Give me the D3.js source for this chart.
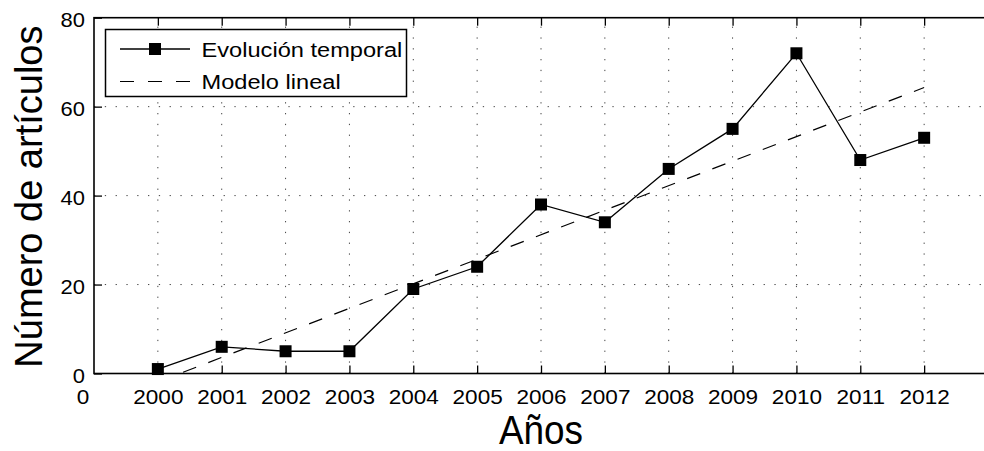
<!DOCTYPE html>
<html>
<head>
<meta charset="utf-8">
<script src="https://cdn.jsdelivr.net/npm/d3@7"></script>
<style>
  body { margin: 0; background: #fff; }
  text { font-family: "Liberation Sans", Arial, Helvetica, sans-serif; fill: #000; }
</style>
</head>
<body>
<svg id="chart" width="984" height="451"></svg>
<script>
// data
var years = [2000, 2001, 2002, 2003, 2004, 2005, 2006, 2007, 2008, 2009, 2010, 2011, 2012];
var counts = [1, 6, 5, 5, 19, 24, 38, 34, 46, 55, 72, 48, 53];
var modelYears = [2000, 2012];
var modelValues = [-1.9, 64.3];
var yTicks = [0, 20, 40, 60, 80];
var yGrid = [20, 40, 60];
var legendLabels = ["Evolución temporal", "Modelo lineal"];

var svg = d3.select("svg#chart");

// note: "top" is a reserved window global, so plot edges get their own names
var plotLeft = 94, plotRight = 988, plotTop = 17.7, plotBottom = 373.5;

var x = d3.scaleLinear().domain([1999, 2013]).range([plotLeft, plotRight]);
var y = d3.scaleLinear().domain([0, 80]).range([plotBottom, plotTop]);

svg.append("defs").append("clipPath")
   .attr("id", "plotClip")
   .append("rect")
   .attr("x", plotLeft).attr("y", plotTop)
   .attr("width", plotRight - plotLeft).attr("height", plotBottom - plotTop);

// dotted grid
var grid = svg.append("g").attr("class", "grid")
              .attr("stroke", "#444").attr("stroke-width", 1)
              .attr("stroke-dasharray", "1.3,9.5");
grid.selectAll("line.v")
    .data(years)
    .enter().append("line")
    .attr("class", "v")
    .attr("x1", function(d) { return x(d); })
    .attr("x2", function(d) { return x(d); })
    .attr("y1", plotBottom).attr("y2", plotTop);
grid.selectAll("line.h")
    .data(yGrid)
    .enter().append("line")
    .attr("class", "h")
    .attr("x1", plotLeft).attr("x2", plotRight)
    .attr("y1", function(d) { return y(d); })
    .attr("y2", function(d) { return y(d); });

// linear model
var modelLine = d3.line()
    .x(function(d, i) { return x(modelYears[i]); })
    .y(function(d) { return y(d); });
svg.append("path")
   .attr("clip-path", "url(#plotClip)")
   .attr("d", modelLine(modelValues))
   .attr("fill", "none")
   .attr("stroke", "#000")
   .attr("stroke-width", 1.2)
   .attr("stroke-dasharray", "14,13");

// series
var seriesLine = d3.line()
    .x(function(d, i) { return x(years[i]); })
    .y(function(d) { return y(d); });
svg.append("path")
   .attr("d", seriesLine(counts))
   .attr("fill", "none")
   .attr("stroke", "#000")
   .attr("stroke-width", 1.3);

var ms = 12;
svg.append("g").selectAll("rect")
   .data(counts)
   .enter().append("rect")
   .attr("x", function(d, i) { return x(years[i]) - ms / 2; })
   .attr("y", function(d) { return y(d) - ms / 2; })
   .attr("width", ms).attr("height", ms)
   .attr("fill", "#000");

// axes
var xAxis = svg.append("g")
    .attr("transform", "translate(0," + plotBottom + ")")
    .call(d3.axisBottom(x).tickValues(years).tickSizeInner(-8).tickSizeOuter(0)
            .tickFormat(d3.format("d")));
xAxis.select(".domain").remove();
xAxis.selectAll("line").attr("stroke-width", 1.3);
xAxis.selectAll("text")
     .attr("y", 0).attr("dy", 0)
     .attr("font-size", 20.5)
     .attr("transform", "translate(0,30.5) scale(1.1,1)");

svg.append("text")
   .attr("transform", "translate(" + (x(1999) - 11) + "," + (plotBottom + 30.5) + ") scale(1.1,1)")
   .attr("text-anchor", "middle")
   .attr("font-size", 20.5)
   .text("0");

var xTop = svg.append("g")
    .attr("transform", "translate(0," + plotTop + ")")
    .call(d3.axisTop(x).tickValues(years).tickSizeInner(-8).tickSizeOuter(0).tickFormat(""));
xTop.select(".domain").remove();
xTop.selectAll("line").attr("stroke-width", 1.3);

var yAxis = svg.append("g")
    .attr("transform", "translate(" + plotLeft + ",0)")
    .call(d3.axisLeft(y).tickValues(yTicks).tickSizeInner(-8).tickSizeOuter(0));
yAxis.select(".domain").remove();
yAxis.selectAll("line").attr("stroke-width", 1.3);
yAxis.selectAll("text")
     .attr("x", 0).attr("dy", "0.36em")
     .attr("font-size", 20.5)
     .attr("transform", "translate(-9,1.5) scale(1.07,1)");

svg.append("rect")
   .attr("x", plotLeft).attr("y", plotTop)
   .attr("width", plotRight - plotLeft).attr("height", plotBottom - plotTop)
   .attr("fill", "none")
   .attr("stroke", "#000")
   .attr("stroke-width", 1.6);

// axis titles
svg.append("text")
   .attr("transform", "translate(" + ((plotLeft + plotRight) / 2) + ",443.5) scale(0.9,1)")
   .attr("text-anchor", "middle")
   .attr("font-size", 41)
   .text("Años");

svg.append("text")
   .attr("transform", "translate(42," + ((plotTop + plotBottom) / 2 + 1) + ") rotate(-90)")
   .attr("text-anchor", "middle")
   .attr("font-size", 38)
   .text("Número de artículos");

// legend
var legend = svg.append("g").attr("transform", "translate(105.5,29.5)");
legend.append("rect")
      .attr("width", 301).attr("height", 67)
      .attr("fill", "#fff")
      .attr("stroke", "#000")
      .attr("stroke-width", 1.5);

var rows = [19.5, 52];
legend.append("line")
      .attr("x1", 14.5).attr("x2", 84.5)
      .attr("y1", rows[0]).attr("y2", rows[0])
      .attr("stroke", "#000").attr("stroke-width", 1.3);
legend.append("rect")
      .attr("x", 49.5 - ms / 2).attr("y", rows[0] - ms / 2)
      .attr("width", ms).attr("height", ms)
      .attr("fill", "#000");
legend.append("line")
      .attr("x1", 14.5).attr("x2", 84.5)
      .attr("y1", rows[1]).attr("y2", rows[1])
      .attr("stroke", "#000").attr("stroke-width", 1.2)
      .attr("stroke-dasharray", "14,14");

legend.selectAll("text.lbl")
      .data(legendLabels)
      .enter().append("text")
      .attr("class", "lbl")
      .attr("transform", function(d, i) { return "translate(96," + (rows[i] + 7.5) + ") scale(1.125,1)"; })
      .attr("font-size", 21)
      .text(function(d) { return d; });
</script>
</body>
</html>
